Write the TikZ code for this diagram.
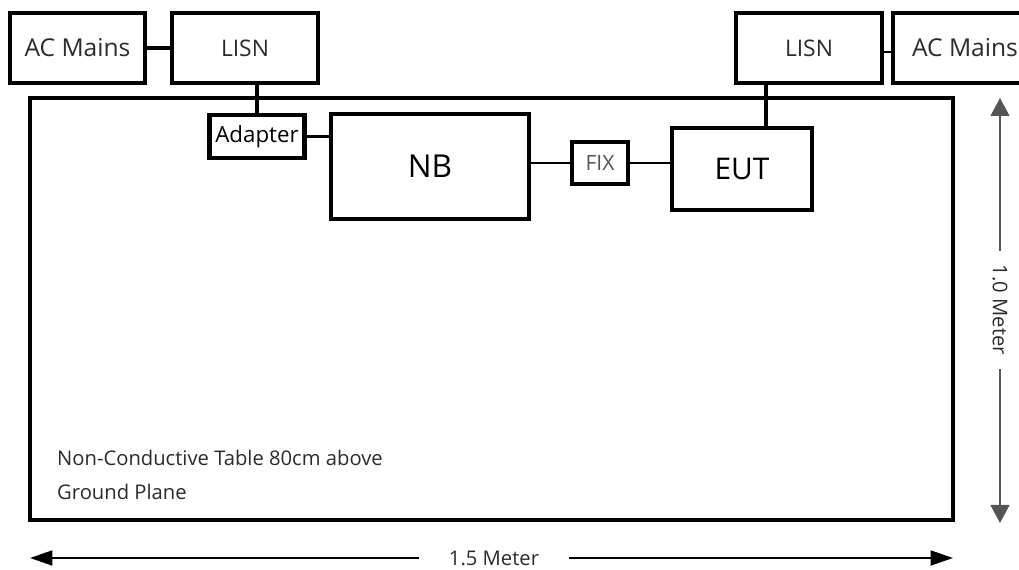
\documentclass[tikz,border=0pt]{standalone}
\usepackage{fontspec}
\setmainfont{Open Sans}
\usepackage{xcolor}
\usepackage{tikz}
\usetikzlibrary{arrows.meta,positioning}
\definecolor{InkGray}   {HTML}{2B2B2B}
\definecolor{DimGray}   {HTML}{555555}

\tikzset{
    unitbox/.style={draw=black,line width=2.2pt,inner sep=0pt,text=InkGray},
    cable/.style={line width=2.2pt},
    thincable/.style={line width=1.3pt},
    dimlabel/.style={inner ysep=0pt,text=InkGray,font=\fontsize{11.5}{14}\selectfont},
}

\begin{document}
\begin{tikzpicture}[x=0.02cm,y=-0.02cm]
    \useasboundingbox (0,0) rectangle (1019,570);
    \clip (0,0) rectangle (1019,570);

    % table
    \draw[line width=1.8pt] (30,98) rectangle (953,520);
    \node[anchor=west,align=left,text=InkGray,
          font=\fontsize{11.5}{19.8}\selectfont] (tabtext) at (51,475)
          {Non-Conductive Table 80cm above\\Ground Plane};

    % units
    \node[unitbox,minimum width=2.7cm,minimum height=1.4cm,
          font=\fontsize{14}{16}\selectfont] (acL) at (77.5,48) {AC Mains};
    \node[unitbox,minimum width=2.92cm,minimum height=1.4cm,
          font=\fontsize{13}{15}\selectfont] (lisnL) at (245,48) {LISN};
    \node[unitbox,line width=2.8pt,minimum width=1.9cm,minimum height=0.86cm,
          text=black,font=\fontsize{12.7}{15}\selectfont] (adapter) at (257,136.5) {Adapter};
    \node[unitbox,line width=1.8pt,minimum width=3.96cm,minimum height=2.1cm,
          text=black,font=\fontsize{18}{20}\selectfont] (nb) at (430,166.5) {NB};
    \node[unitbox,minimum width=1.12cm,minimum height=0.84cm,
          text=DimGray,font=\fontsize{12}{14}\selectfont] (fix) at (600,163) {FIX};
    \node[unitbox,line width=2pt,minimum width=2.8cm,minimum height=1.64cm,
          text=black,font=\fontsize{17}{19}\selectfont] (eut) at (742,169) {EUT};
    \node[unitbox,minimum width=2.92cm,minimum height=1.4cm,
          font=\fontsize{13}{15}\selectfont] (lisnR) at (809,48) {LISN};
    \node[unitbox,minimum width=2.88cm,minimum height=1.4cm,
          font=\fontsize{14}{16}\selectfont] (acR) at (965,48) {AC Mains};

    % cables
    \draw[cable] (acL) -- (lisnL);
    \draw[cable] (adapter.north) -- (adapter.north |- lisnL.south);
    \draw[cable] (adapter.east) -- (adapter.east -| nb.west);
    \draw[thincable] (fix.west -| nb.east) -- (fix.west);
    \draw[thincable] (fix.east) -- (fix.east -| eut.west);
    \path (eut.north) ++(24,0) coordinate (eutin);
    \draw[cable] (eutin) -- (eutin |- lisnR.south);
    \draw[thincable] ([yshift=-0.08cm]lisnR.east) -- ([yshift=-0.08cm]acR.west);

    % dimensions
    \coordinate (vtop) at (1000,98);
    \coordinate (vbot) at (1000,523);
    \node[dimlabel,rotate=-90,inner xsep=0.28cm] (vlab) at (1000,310) {1.0 Meter};
    \draw[DimGray,line width=0.7pt,-{Triangle[length=0.36cm,width=0.38cm]}] (vlab.west) -- (vtop);
    \draw[DimGray,line width=0.7pt,-{Triangle[length=0.36cm,width=0.38cm]}] (vlab.east) -- (vbot);

    \coordinate (hleft) at (30,558);
    \coordinate (hright) at (953,558);
    \node[dimlabel,inner xsep=0.6cm] (hlab) at (494,558) {1.5 Meter};
    \draw[line width=1.2pt,-{Triangle[length=0.45cm,width=0.3cm]}] (hlab.west) -- (hleft);
    \draw[line width=1.2pt,-{Triangle[length=0.45cm,width=0.3cm]}] (hlab.east) -- (hright);
\end{tikzpicture}
\end{document}
